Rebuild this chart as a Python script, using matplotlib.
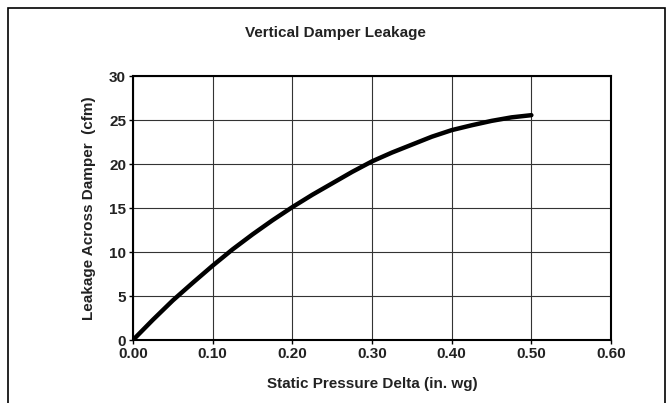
import matplotlib.pyplot as plt
from matplotlib.patches import Rectangle

# leakage curve, read at 0.025 in. wg steps
pressure = [0.000, 0.025, 0.050, 0.075, 0.100, 0.125, 0.150, 0.175, 0.200, 0.225,
            0.250, 0.275, 0.300, 0.325, 0.350, 0.375, 0.400, 0.425, 0.450, 0.475,
            0.500]
leakage = [0.0, 2.3, 4.5, 6.5, 8.45, 10.3, 12.0, 13.6, 15.1, 16.5,
           17.8, 19.1, 20.3, 21.3, 22.2, 23.1, 23.85, 24.4, 24.9, 25.3,
           25.55]

x_ticks = [0.0, 0.1, 0.2, 0.3, 0.4, 0.5, 0.6]
y_ticks = [0, 5, 10, 15, 20, 25, 30]

plt.rcParams['font.family'] = ['Liberation Sans', 'DejaVu Sans']
plt.rcParams['font.weight'] = 'bold'
TXT = '#222222'

fig = plt.figure(figsize=(6.7, 4.03), dpi=100)
ax = fig.add_axes([0.1985, 0.1563, 0.7135, 0.6551])

ax.plot(pressure, leakage, color='black', lw=3.2, solid_capstyle='round',
        solid_joinstyle='round', zorder=3)

ax.set_xlim(0, 0.6)
ax.set_ylim(0, 30)
ax.set_xticks(x_ticks)
ax.set_xticklabels([f'{v:.2f}' for v in x_ticks])
ax.set_yticks(y_ticks)
ax.grid(True, color='#333333', lw=0.8)
ax.set_axisbelow(True)
for s in ax.spines.values():
    s.set_linewidth(1.5)
    s.set_color('black')
ax.tick_params(direction='out', length=3, width=1, labelsize=11, pad=2)
for lbl in ax.get_xticklabels() + ax.get_yticklabels():
    lbl.set_fontweight('bold')
    lbl.set_color(TXT)

ax.set_xlabel('Static Pressure Delta (in. wg)', fontsize=11, fontweight='bold', color=TXT)
ax.set_ylabel('Leakage Across Damper  (cfm)', fontsize=11, fontweight='bold', color=TXT)
ax.xaxis.label.set_va('center')
ax.yaxis.label.set_va('center')
ax.xaxis.set_label_coords(0.5, -0.165)
ax.yaxis.set_label_coords(-0.093, 0.5)
fig.text(0.5, 0.918, 'Vertical Damper Leakage', ha='center', va='center',
         fontsize=11, fontweight='bold', color=TXT)

# outer chart frame, open at the bottom edge
fig.patches.append(Rectangle((8 / 670, -0.05), 657 / 670, 1.05 - 8 / 403,
                             transform=fig.transFigure, fill=False,
                             edgecolor='black', lw=1.2))

fig.savefig('out.png', dpi=100, facecolor='white')
